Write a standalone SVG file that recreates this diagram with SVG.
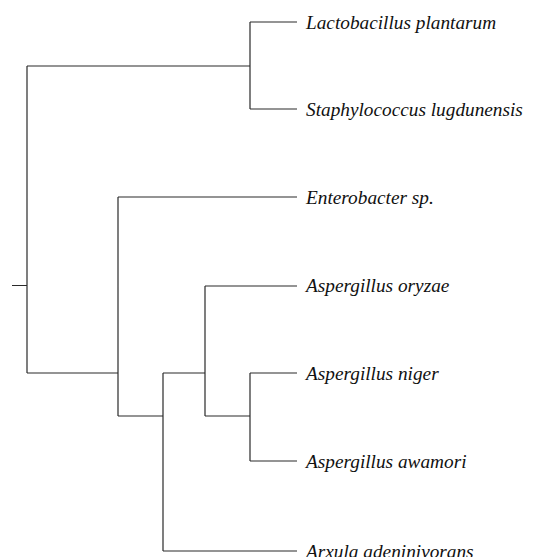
<svg xmlns="http://www.w3.org/2000/svg" width="544" height="557" viewBox="0 0 544 557">
<style>
.e{fill:none;stroke:#2a2a2a;stroke-width:1.2}
.t{font-family:"Liberation Serif",serif;font-style:italic;font-size:19.3px;fill:#111}
</style>
<rect width="544" height="557" fill="#fff"/>
<g id="connectors">
<path class="e" d="M12 285.5H27M27 66V373M27 66H250M250 22V109M250 22H297M250 109H297M27 373H118M118 197V416M118 197H297M118 416H163M163 373V551M163 551H297M163 373H205M205 286V416M205 286H297M205 416H250M250 373V461M250 373H297M250 461H297"/>
</g>
<g id="n1"><text class="t" x="306" y="28.5">Lactobacillus plantarum</text></g>
<g id="n2"><text class="t" x="306" y="115.5">Staphylococcus lugdunensis</text></g>
<g id="n3"><text class="t" x="306" y="203.5">Enterobacter sp.</text></g>
<g id="n4"><text class="t" x="306" y="292">Aspergillus oryzae</text></g>
<g id="n5"><text class="t" x="306" y="379.5">Aspergillus niger</text></g>
<g id="n6"><text class="t" x="306" y="467.5">Aspergillus awamori</text></g>
<g id="n7"><text class="t" x="306" y="557.5">Arxula adeninivorans</text></g>
</svg>
